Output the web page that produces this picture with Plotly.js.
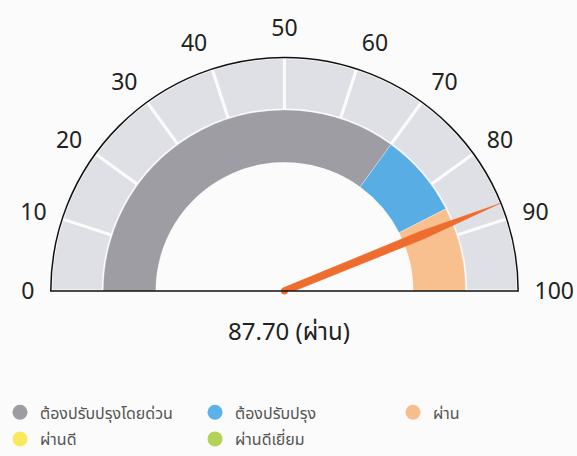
<!DOCTYPE html>
<html>
<head>
<meta charset="utf-8">
<script src="https://cdn.plot.ly/plotly-3.0.1.min.js"></script>
<style>html,body{margin:0;padding:0;background:#fbfbfb;}#chart{width:577px;height:456px;}</style>
</head>
<body>
<div id="chart"></div>
<script>
// ---- data ----
var scoreValue = 87.70;
var scoreLabel = "ผ่าน";
var tickLabels = ["0","10","20","30","40","50","60","70","80","90","100"];
var tickValues = [0,10,20,30,40,50,60,70,80,90,100];
var categories = ["ต้องปรับปรุงโดยด่วน","ต้องปรับปรุง","ผ่าน","ผ่านดี","ผ่านดีเยี่ยม"];
var categoryColors = ["#9c9ca2","#5ab2ea","#f8bd8c","#f8ea5c","#b2d258"];
var categoryLegendGroup = ["legend","legend","legend3","legend2","legend2"];
var bandStart = [0, 70, 85];
var bandEnd = [70, 85, 100];
var bandColors = ["#9d9da3","#58ade4","#f8c08f"];
var segStart = [0,10,20,30,40,50,60,70,80,90];
var segEnd = [10,20,30,40,50,60,70,80,90,100];

// ---- helpers: map 0..100 scale onto the half-circle angular axis (degrees) ----
var K = 180 / 100;
function deg(v){ return v * K; }

var R_OUT = 236, R_MID = 183, R_IN = 130;

var traces = [];
// outer light segmented band
traces.push({
  type: "barpolar",
  theta: segStart.map(function(s,i){ return deg((s + segEnd[i]) / 2); }),
  width: segStart.map(function(s,i){ return deg(segEnd[i] - s); }),
  base: segStart.map(function(){ return R_MID; }),
  r: segStart.map(function(){ return R_OUT - R_MID; }),
  marker: {color: "#dfdfe6", line: {color: "#fbfbfb", width: 3}},
  showlegend: false, hoverinfo: "skip"
});
// inner coloured band
traces.push({
  type: "barpolar",
  theta: bandStart.map(function(s,i){ return deg((s + bandEnd[i]) / 2); }),
  width: bandStart.map(function(s,i){ return deg(bandEnd[i] - s); }),
  base: bandStart.map(function(){ return R_IN; }),
  r: bandStart.map(function(){ return R_MID - R_IN; }),
  marker: {color: bandColors, line: {color: "rgba(255,255,255,0.6)", width: 0.5}},
  showlegend: false, hoverinfo: "skip"
});
// needle
var a = deg(scoreValue);
traces.push({
  type: "scatterpolar",
  r: [3.5, 150, R_OUT - 1, 150, 3.5],
  theta: [a - 90, a - 1.6, a, a + 1.6, a + 90],
  fill: "toself", fillcolor: "#ee6c2e",
  mode: "lines", line: {color: "#ee6c2e", width: 0.5},
  showlegend: false, hoverinfo: "skip"
});
traces.push({
  type: "scatterpolar", r: [0], theta: [a], mode: "markers",
  marker: {color: "#ee6c2e", size: 7}, showlegend: false, hoverinfo: "skip"
});
// legend entries
categories.forEach(function(c, i){
  traces.push({
    type: "scatterpolar", r: [null], theta: [null], mode: "markers",
    name: c, legend: categoryLegendGroup[i],
    marker: {color: categoryColors[i], size: 15, symbol: "circle"},
    hoverinfo: "skip"
  });
});

var FONT = "Noto Sans Thai, Noto Sans, DejaVu Sans, sans-serif";
function legendBox(xFrac, yPix, ew){
  return {
    orientation: "h", x: xFrac, y: 1 - yPix/456, xanchor: "left", yanchor: "middle",
    entrywidth: ew, entrywidthmode: "pixels",
    font: {size: 16, color: "#555", family: FONT},
    bgcolor: "rgba(0,0,0,0)", itemclick: false
  };
}
var layout = {
  width: 577, height: 456,
  margin: {l: 0, r: 0, t: 0, b: 0},
  paper_bgcolor: "#fbfbfb", plot_bgcolor: "#fbfbfb",
  font: {family: FONT, color: "#222"},
  polar: {
    domain: {x: [0.0815, 0.9045], y: [0.356, 0.873]},
    sector: [0, 180],
    bgcolor: "rgba(0,0,0,0)",
    bargap: 0,
    radialaxis: {range: [0, R_OUT], visible: false, showgrid: false},
    angularaxis: {
      direction: "clockwise", rotation: 180, thetaunit: "degrees",
      tickmode: "array",
      tickvals: tickValues.map(deg), ticktext: tickLabels,
      showgrid: false, showline: true, linecolor: "#111", linewidth: 1.5,
      ticks: "outside", ticklen: 11, tickcolor: "rgba(0,0,0,0)",
      tickfont: {size: 23, color: "#222", family: FONT}
    }
  },
  showlegend: true,
  legend: legendBox(0, 416, 150),
  legend2: legendBox(0, 443, 150),
  legend3: legendBox(393/577, 416, 60),
  annotations: [{
    xref: "paper", yref: "paper", x: 0.5, y: 1 - 336/456,
    xanchor: "center", yanchor: "middle", showarrow: false,
    text: scoreValue.toFixed(2) + " (" + scoreLabel + ")",
    font: {size: 24, color: "#222", family: FONT}
  }]
};
Plotly.newPlot("chart", traces, layout, {displayModeBar: false, staticPlot: true});
</script>
</body>
</html>
